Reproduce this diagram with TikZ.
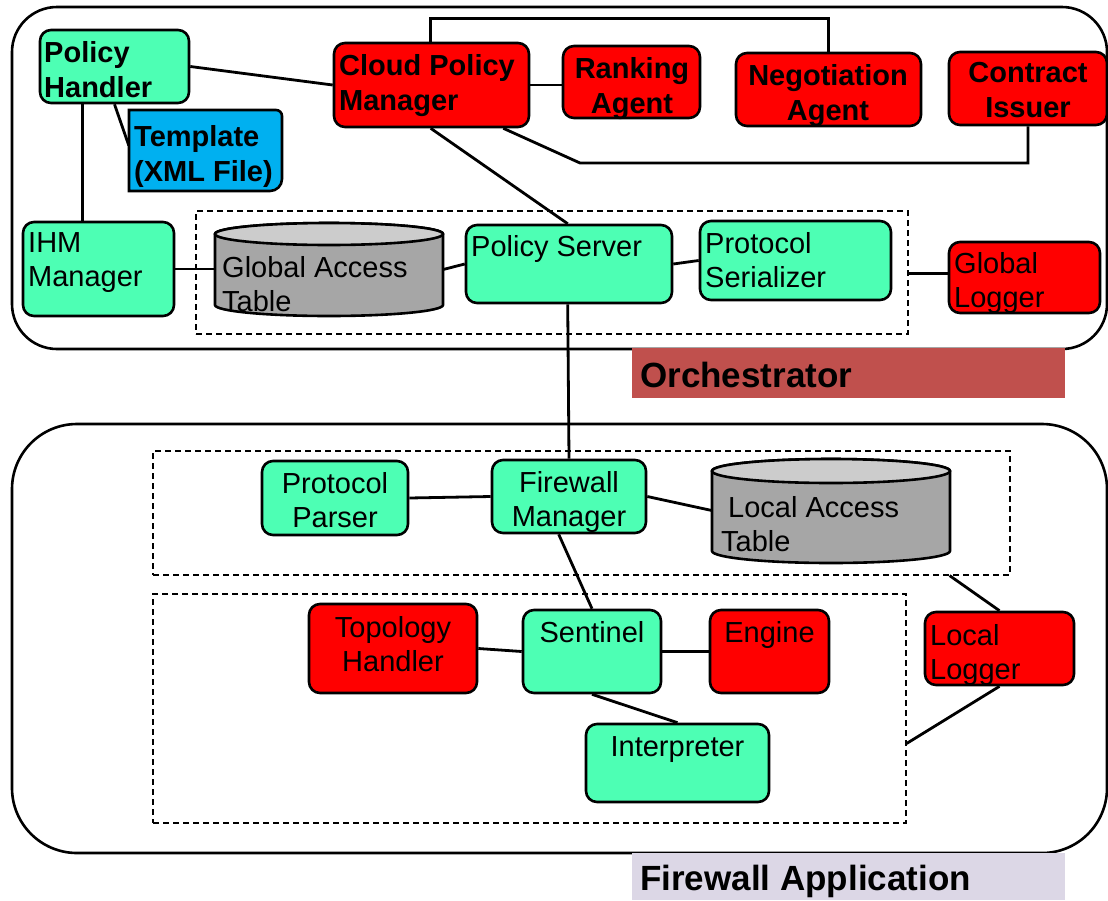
\documentclass[tikz,border=0pt]{standalone}
\usepackage{fontspec}
\setmainfont{Liberation Sans}
\usetikzlibrary{fit,calc}
\pgfdeclarelayer{canvas}
\pgfdeclarelayer{links}
\pgfsetlayers{canvas,links,main}

\definecolor{mint}{RGB}{77,255,180}
\definecolor{alarm}{RGB}{255,0,0}
\definecolor{sky}{RGB}{0,176,240}
\definecolor{drum}{RGB}{166,166,166}
\definecolor{drumtop}{RGB}{204,204,204}
\definecolor{brick}{RGB}{192,80,77}
\definecolor{lilac}{RGB}{220,215,230}

\tikzset{
  unit/.style={draw, line width=2.6pt, rounded corners=11pt, inner sep=0pt},
  ok/.style={unit, fill=mint},
  hot/.style={unit, fill=alarm},
  zone/.style={draw, line width=2.6pt, rounded corners=#1, inner sep=0pt},
  group/.style={draw, line width=1.2pt, dash pattern=on 6pt off 4pt, inner sep=0pt},
  banner/.style={fill=#1, inner sep=0pt},
  hole/.style={inner sep=0pt},
  lbl/.style={inner sep=0pt, align=left, anchor=north west, font=\fontsize{29}{34}\selectfont},
  lblc/.style={inner sep=0pt, align=center, anchor=north, font=\fontsize{29}{34}\selectfont},
  blbl/.style={inner sep=0pt, align=left, anchor=north west, font=\fontsize{29}{35}\selectfont\bfseries},
  blblc/.style={inner sep=0pt, align=center, anchor=north, font=\fontsize{29}{35}\selectfont\bfseries},
  link/.style={line width=2.8pt},
  solid/.style={line width=2.6pt},
  title/.style={inner sep=0pt, anchor=base west, font=\fontsize{35}{40}\selectfont\bfseries},
}

\begin{document}
\begin{tikzpicture}[x=1pt,y=-1pt]
\begin{pgfonlayer}{canvas}
  \fill[white] (0,0) rectangle (1108,900);
\end{pgfonlayer}
\useasboundingbox (0,0) rectangle (1108,900);

% ---------- the two outer regions and their titles ----------
\node[zone=45pt, fit={(12,7) (1107,349)}] (orch) {};
\node[banner=brick, fit={(632,348) (1065,398)}] (orch-tag) {};
\node[title] (orch-name) at (640,387) {Orchestrator};

\node[zone=65pt, fit={(12,424) (1107,853)}] (fwapp) {};
\node[banner=lilac, fit={(632,853) (1065,900)}] (fwapp-tag) {};
\node[title] (fwapp-name) at (640,890) {Firewall Application};

% ---------- dashed groupings ----------
\node[group, fit={(196,211) (908,334)}] (core) {};
\node[group, fit={(153,451) (1010,575)}] (front) {};
\node[group, fit={(153,594) (906,823)}] (enggrp) {};

% ---------- orchestrator components ----------
\node[ok, fit={(40,30) (189,103)}] (ph) {};
\node[blbl] (ph-t) at (44,41) {Policy\\Handler};

\node[hole, fit={(129,110) (282,191)}] (tpl) {};
\draw[solid, fill=sky] (129,110) -- (276,110)
  arc[start angle=90, end angle=0, radius=6pt] -- (282,179)
  arc[start angle=0, end angle=-90, radius=12pt] -- (129,191) -- cycle;
\node[blbl] (tpl-t) at (134,125) {Template\\(XML File)};

\node[hot, fit={(334,43) (529,127)}] (cpm) {};
\node[blbl] (cpm-t) at (339,54) {Cloud Policy\\Manager};

\node[hot, fit={(563,46) (700,118)}] (rank) {};
\node[blblc] (rank-t) at (632,57) {Ranking\\Agent};

\node[hot, fit={(736,53) (921,126)}] (neg) {};
\node[blblc] (neg-t) at (828,64) {Negotiation\\Agent};

\node[hot, fit={(949,52) (1107,125)}] (ci) {};
\node[blblc] (ci-t) at (1028,62) {Contract\\Issuer};

\node[ok, fit={(23,222) (174,316)}] (ihm) {};
\node[lbl] (ihm-t) at (28,232) {IHM\\Manager};

% global access table (cylinder)
\node[hole, fit={(215,223) (443,316)}] (gat) {};
\draw[solid, fill=drum] (215,234) -- (215,305)
  arc[start angle=180, end angle=360, x radius=114pt, y radius=11pt] -- (443,234)
  arc[start angle=0, end angle=180, x radius=114pt, y radius=11pt] -- cycle;
\draw[solid, fill=drumtop] (329,234) ellipse[x radius=114pt, y radius=11pt];
\node[lbl] (gat-t) at (222,256) {Global Access\\Table};

\node[ok, fit={(466,225) (672,303)}] (ps) {};
\node[lbl] (ps-t) at (471,235) {Policy Server};

\node[ok, fit={(700,221) (891,300)}] (pser) {};
\node[lbl] (pser-t) at (705,232) {Protocol\\Serializer};

\node[hot, fit={(949,242) (1100,313)}] (gl) {};
\node[lbl] (gl-t) at (954,252) {Global\\Logger};

% ---------- firewall application components ----------
\node[ok, fit={(262,461) (408,535)}] (pp) {};
\node[lblc] (pp-t) at (335,472) {Protocol\\Parser};

\node[ok, fit={(492,460) (646,533)}] (fm) {};
\node[lblc] (fm-t) at (569,471) {Firewall\\Manager};

% local access table (cylinder)
\node[hole, fit={(712,458) (950,563)}] (lat) {};
\draw[solid, fill=drum] (712,471) -- (712,551)
  arc[start angle=180, end angle=360, x radius=119pt, y radius=12pt] -- (950,471)
  arc[start angle=0, end angle=180, x radius=119pt, y radius=12pt] -- cycle;
\draw[solid, fill=drumtop] (831,471) ellipse[x radius=119pt, y radius=12pt];
\node[lbl] (lat-t) at (721,496) {\hspace{7pt}Local Access\\Table};

\node[hot, fit={(309,604) (477,693)}] (th) {};
\node[lblc] (th-t) at (393,616) {Topology\\Handler};

\node[ok, fit={(523,610) (661,693)}] (sen) {};
\node[lblc] (sen-t) at (592,621) {Sentinel};

\node[hot, fit={(710,610) (829,693)}] (eng) {};
\node[lblc] (eng-t) at (769.5,621) {Engine};

\node[hot, fit={(925,612) (1074,685)}] (ll) {};
\node[lbl] (ll-t) at (930,624) {Local\\Logger};

\node[ok, fit={(586,724) (769,802)}] (int) {};
\node[lblc] (int-t) at (677.5,736) {Interpreter};

% ---------- connectors ----------
\coordinate (ci-bend) at (580,163);
\begin{pgfonlayer}{links}
  \draw[link] (ph.east) -- (cpm.west);
  \draw[link] ([xshift=44pt]ph.south west) -- ([xshift=61pt]ihm.north west);
  \draw[link] (ph.south) -- ([yshift=5pt]tpl.west);
  \draw[link] (cpm.east) -- (cpm.east -| rank.west);
  \draw[link] ([xshift=98pt]cpm.north west) -- ++(0,-23) -| (neg.north);
  \draw[link] (ci.south) |- (ci-bend) -- ([xshift=-27pt]cpm.south east);
  \draw[link] ([xshift=98pt]cpm.south west) -- ([xshift=103pt]ps.north west);
  \draw[link] ([xshift=103pt]ps.south west) -- (fm.north);
  \draw[link] (ihm.east) -- (ihm.east -| gat.west);
  \draw[link] (gat.east) -- (ps.west);
  \draw[link] (ps.east) -- (pser.west);
  \draw[link] ([yshift=4pt]gl.west) -- ([yshift=4pt]gl.west -| core.east);
  \draw[link] (pp.east) -- (fm.west);
  \draw[link] (fm.east) -- (lat.west);
  \draw[link] ([xshift=68pt]fm.south west) -- (sen.north);
  \draw[link] (th.east) -- (sen.west);
  \draw[link] (sen.east) -- (eng.west);
  \draw[link] (sen.south) -- (int.north);
  \draw[link] ([xshift=-61pt]front.south east) -- (ll.north);
  \draw[link] (ll.south) -- ([yshift=-35pt]enggrp.east);
\end{pgfonlayer}
\end{tikzpicture}
\end{document}
